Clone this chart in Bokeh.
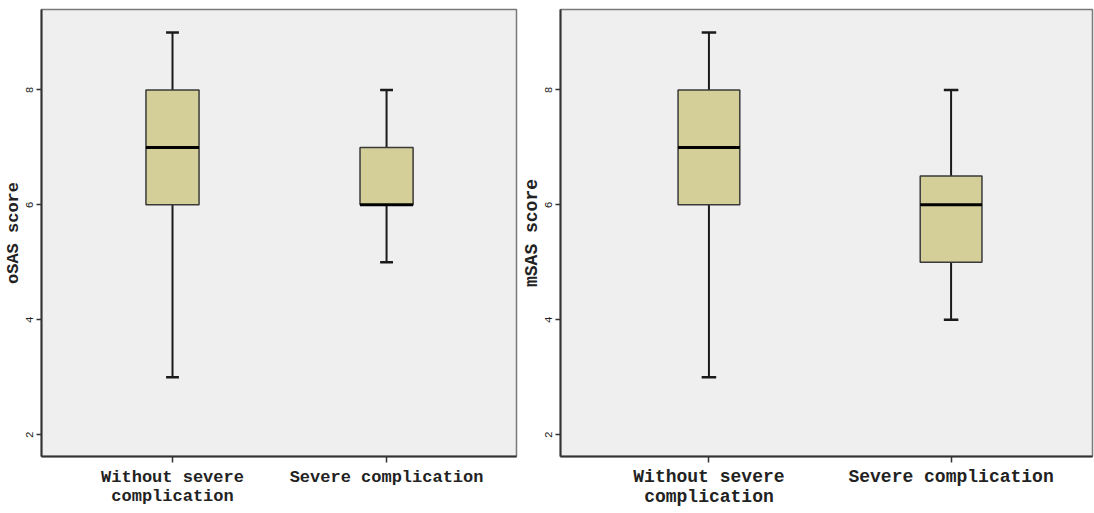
from bokeh.plotting import figure
from bokeh.layouts import row
from bokeh.models import FixedTicker, Range1d, ColumnDataSource
from bokeh.embed import file_html
from bokeh.resources import INLINE

categories = ["Without severe\ncomplication", "Severe complication"]
xpos = [1, 2]

# oSAS
o_low = [3, 5]
o_q1 = [6, 6]
o_med = [7, 6]
o_q3 = [8, 7]
o_high = [9, 8]

# mSAS
m_low = [3, 4]
m_q1 = [6, 5]
m_med = [7, 6]
m_q3 = [8, 6.5]
m_high = [9, 8]

y_ticks = [2, 4, 6, 8]

FONT = "Liberation Mono"
BG = "#efefef"
BOX = "#d4cf98"


def make_panel(label, low, q1, med, q3, high, width, height, xr, yr,
               bl, br, bt, bb, lab_size, box_w, cap_w, x_tick_out, x_standoff):
    p = figure(width=width, height=height, output_backend="svg",
               toolbar_location=None, x_range=Range1d(*xr), y_range=Range1d(*yr),
               min_border_left=bl, min_border_right=br,
               min_border_top=bt, min_border_bottom=bb)
    p.background_fill_color = BG
    p.border_fill_color = "white"
    p.outline_line_color = "#7a7a7a"
    p.outline_line_width = 1.5
    p.xgrid.visible = False
    p.ygrid.visible = False

    src = ColumnDataSource(dict(x=xpos, low=low, q1=q1, med=med, q3=q3, high=high,
                                cl=[v - cap_w / 2 for v in xpos],
                                cr=[v + cap_w / 2 for v in xpos],
                                bl=[v - box_w / 2 for v in xpos],
                                br=[v + box_w / 2 for v in xpos]))
    # whiskers
    p.segment(x0="x", y0="low", x1="x", y1="q1", source=src, line_color="#1a1a1a", line_width=2)
    p.segment(x0="x", y0="q3", x1="x", y1="high", source=src, line_color="#1a1a1a", line_width=2)
    p.segment(x0="cl", y0="low", x1="cr", y1="low", source=src, line_color="#1a1a1a", line_width=2.5)
    p.segment(x0="cl", y0="high", x1="cr", y1="high", source=src, line_color="#1a1a1a", line_width=2.5)
    # boxes
    p.vbar(x="x", width=box_w, bottom="q1", top="q3", source=src,
           fill_color=BOX, line_color="#3a3a3a", line_width=1.5)
    # medians
    p.segment(x0="bl", y0="med", x1="br", y1="med", source=src, line_color="#000000", line_width=3)

    # axes
    for ax in (p.xaxis[0], p.yaxis[0]):
        ax.axis_line_color = "#333333"
        ax.axis_line_width = 2
        ax.major_tick_line_color = "#333333"
        ax.major_tick_line_width = 1.5
        ax.minor_tick_line_color = None
        ax.major_tick_in = 0
        ax.major_label_text_font = FONT
        ax.major_label_text_color = "#222222"
        ax.axis_label_text_font = FONT
        ax.axis_label_text_font_style = "bold"
        ax.axis_label_text_color = "#222222"

    p.xaxis.ticker = FixedTicker(ticks=xpos)
    p.xaxis.major_label_overrides = {xpos[i]: categories[i] for i in range(2)}
    p.xaxis.major_label_text_font_size = lab_size
    p.xaxis.major_label_text_font_style = "bold"
    p.xaxis.major_label_text_line_height = 1.0
    p.xaxis.major_tick_out = x_tick_out
    p.xaxis.major_label_standoff = x_standoff

    p.yaxis.ticker = FixedTicker(ticks=y_ticks)
    p.yaxis.major_label_text_font_size = "11px"
    p.yaxis.major_label_orientation = "vertical"
    p.yaxis.major_tick_out = 5
    p.yaxis.major_label_standoff = 3
    p.yaxis.axis_label = label
    p.yaxis.axis_label_text_font_size = lab_size
    p.yaxis.axis_label_text_line_height = 1.0
    p.yaxis.axis_label_standoff = 1
    return p


p1 = make_panel("oSAS score", o_low, o_q1, o_med, o_q3, o_high,
                width=518, height=513, xr=(0.388, 2.607), yr=(1.62, 9.40),
                bl=41, br=2, bt=6, bb=57, lab_size="17px", box_w=0.248, cap_w=0.06,
                x_tick_out=6, x_standoff=5)
p2 = make_panel("mSAS score", m_low, m_q1, m_med, m_q3, m_high,
                width=576, height=513, xr=(0.387, 2.584), yr=(1.62, 9.40),
                bl=40, br=2, bt=9, bb=55, lab_size="18px", box_w=0.255, cap_w=0.06,
                x_tick_out=6, x_standoff=4)

layout = row(p1, p2, spacing=0)
open("out.html", "w").write(file_html(layout, INLINE))
